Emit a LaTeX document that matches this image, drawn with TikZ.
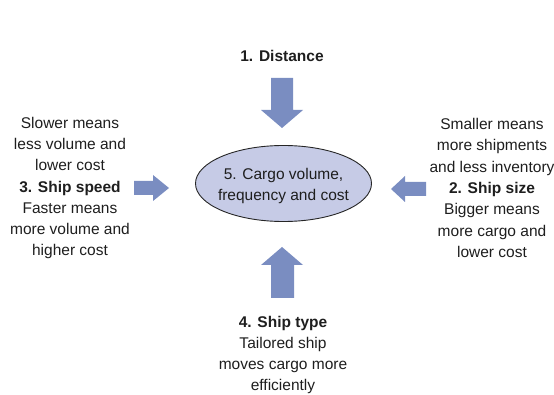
\documentclass[tikz,border=0pt]{standalone}
\usepackage{fontspec}
\setmainfont{Liberation Sans}
\usetikzlibrary{shapes.geometric}
\definecolor{arrowblue}{RGB}{122,141,193}
\definecolor{ellfill}{RGB}{198,203,230}
\definecolor{txt}{RGB}{30,30,30}
\tikzset{
  lbl/.style={align=center, text=txt, font=\fontsize{15.5}{21.3}\selectfont, inner sep=0pt},
  fatarrow/.style={fill=arrowblue, draw=none},
  centre/.style={ellipse, draw=black!85, line width=0.9pt, fill=ellfill, minimum width=176pt, minimum height=76pt, inner sep=0pt}
}
\begin{document}
\begin{tikzpicture}[x=1pt,y=-1pt]
\useasboundingbox (0,0) rectangle (554,395);
% centre ellipse
\node[centre] (c) at (283.5,183.5) {};
\node[lbl] (ct) at (283.5,186) {5. Cargo volume,\\frequency and cost};
% labels
\node[lbl] (d) at (282,56) {\textbf{1. Distance}};
\node[lbl] (s) at (70,188) {Slower means\\less volume and\\lower cost\\\textbf{3. Ship speed}\\Faster means\\more volume and\\higher cost};
\node[lbl] (z) at (492,188) {Smaller means\\more shipments\\and less inventory\\\textbf{2. Ship size}\\Bigger means\\more cargo and\\lower cost};
\node[lbl] (t) at (283,355) {\textbf{4. Ship type}\\Tailored ship\\moves cargo more\\efficiently};
% down arrow (top)
\fill[fatarrow] (271,78) -- (293,78) -- (293,110) -- (303,110) -- (282,128) -- (261,110) -- (271,110) -- cycle;
% up arrow (bottom)
\fill[fatarrow] (271,298) -- (294,298) -- (294,265) -- (303,265) -- (282,247) -- (261,265) -- (271,265) -- cycle;
% right-pointing arrow (left)
\fill[fatarrow] (134,181) -- (153,181) -- (153,175) -- (169,188) -- (153,201) -- (153,195) -- (134,195) -- cycle;
% left-pointing arrow (right)
\fill[fatarrow] (426,182) -- (405,182) -- (405,176) -- (391,189) -- (405,202) -- (405,196) -- (426,196) -- cycle;
\end{tikzpicture}
\end{document}
